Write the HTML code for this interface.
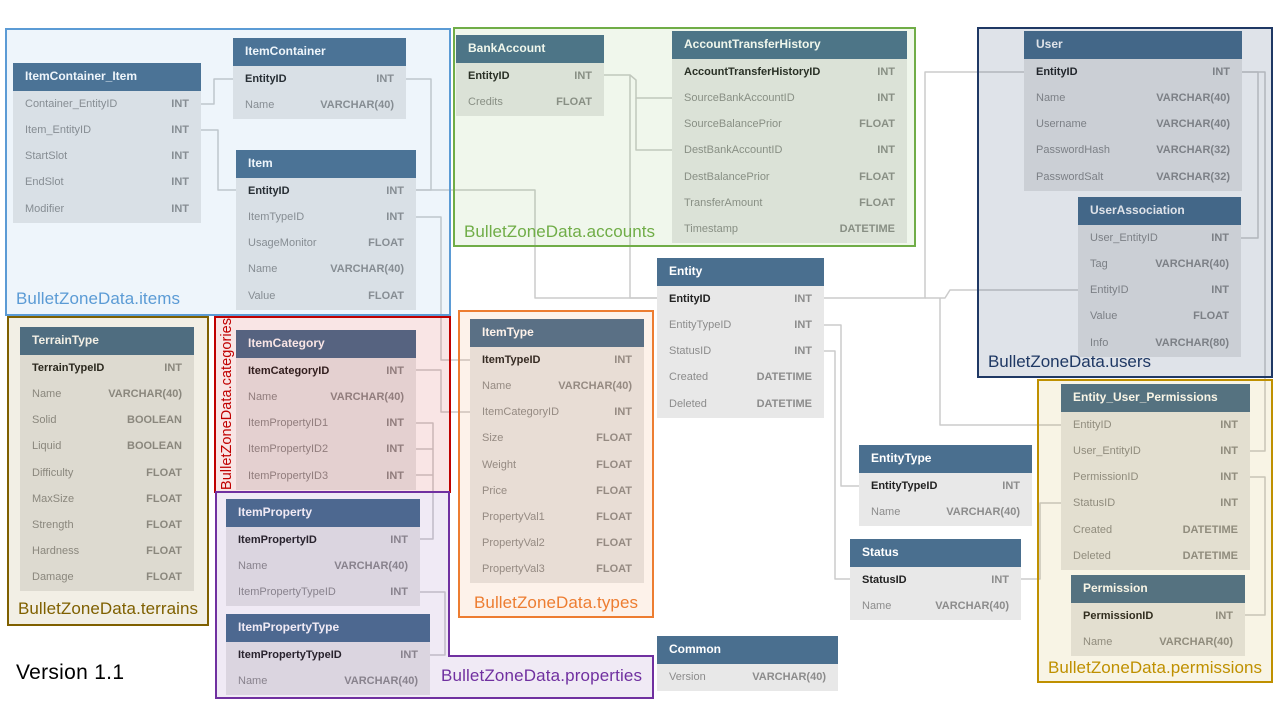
<!DOCTYPE html>
<html><head><meta charset="utf-8"><style>
body{margin:0;width:1280px;height:720px;background:#fff;position:relative;overflow:hidden;font-family:"Liberation Sans",sans-serif}
svg{position:absolute;left:0;top:0}
.t{position:absolute;background:#e8e8e8;font-size:11px;z-index:1;padding-bottom:1px}
.h{height:28px;background:#4a6f8f;color:#fff;font-weight:bold;font-size:12px;line-height:27px;padding-left:12px}
.r{height:26.15px;line-height:26px;padding:0 12px;display:flex;justify-content:space-between;color:#8c8c8c}
.k{color:#222;font-weight:bold}.k b{color:#8c8c8c}
.r b{font-weight:bold}
</style></head><body>
<svg width="1280" height="720" style="z-index:0" fill="none" stroke="#cbcbcb" stroke-width="1.5" stroke-linejoin="round">
<polyline points="201,104 214,104 214,79 233,79"/>
<polyline points="201,130 218,130 218,190 236,190"/>
<polyline points="406,79 431,79 431,190 416,190"/>
<polyline points="416,190 535,190 535,298 657,298"/>
<polyline points="416,217 441,217 441,360 470,360"/>
<polyline points="416,370 441,370 441,412 470,412"/>
<polyline points="416,423 433,423 433,539 420,539"/>
<polyline points="416,449 433,449"/><polyline points="416,475 433,475"/>
<polyline points="420,592 445,592 445,655 430,655"/>
<polyline points="604,75 630,75 630,298 657,298"/>
<polyline points="630,75 636,80 636,98 672,98"/>
<polyline points="636,98 636,150 672,150"/>
<polyline points="1024,72 925,72 925,298 824,298"/>
<polyline points="1078,290 950,290 945,298 925,298"/>
<polyline points="940,298 940,425 1061,425"/>
<polyline points="1242,72 1258,72 1258,238 1241,238"/>
<polyline points="1242,72 1265,72 1265,451 1250,451"/>
<polyline points="824,325 841,325 841,486 859,486"/>
<polyline points="824,351 835,351 835,579 850,579"/>
<polyline points="1021,579 1040,579 1040,503 1061,503"/>
<polyline points="1250,477 1265,477 1265,615 1245,615"/>
</svg>

<div class="t" style="left:13px;top:63px;width:188px"><div class="h">ItemContainer_Item</div>
<div class="r"><span>Container_EntityID</span><b>INT</b></div><div class="r"><span>Item_EntityID</span><b>INT</b></div><div class="r"><span>StartSlot</span><b>INT</b></div><div class="r"><span>EndSlot</span><b>INT</b></div><div class="r"><span>Modifier</span><b>INT</b></div></div>

<div class="t" style="left:233px;top:38px;width:173px"><div class="h">ItemContainer</div>
<div class="r k"><span>EntityID</span><b>INT</b></div><div class="r"><span>Name</span><b>VARCHAR(40)</b></div></div>

<div class="t" style="left:236px;top:150px;width:180px"><div class="h">Item</div>
<div class="r k"><span>EntityID</span><b>INT</b></div><div class="r"><span>ItemTypeID</span><b>INT</b></div><div class="r"><span>UsageMonitor</span><b>FLOAT</b></div><div class="r"><span>Name</span><b>VARCHAR(40)</b></div><div class="r"><span>Value</span><b>FLOAT</b></div></div>

<div class="t" style="left:456px;top:35px;width:148px"><div class="h">BankAccount</div>
<div class="r k"><span>EntityID</span><b>INT</b></div><div class="r"><span>Credits</span><b>FLOAT</b></div></div>

<div class="t" style="left:672px;top:31px;width:235px"><div class="h">AccountTransferHistory</div>
<div class="r k"><span>AccountTransferHistoryID</span><b>INT</b></div><div class="r"><span>SourceBankAccountID</span><b>INT</b></div><div class="r"><span>SourceBalancePrior</span><b>FLOAT</b></div><div class="r"><span>DestBankAccountID</span><b>INT</b></div><div class="r"><span>DestBalancePrior</span><b>FLOAT</b></div><div class="r"><span>TransferAmount</span><b>FLOAT</b></div><div class="r"><span>Timestamp</span><b>DATETIME</b></div></div>

<div class="t" style="left:1024px;top:31px;width:218px"><div class="h">User</div>
<div class="r k"><span>EntityID</span><b>INT</b></div><div class="r"><span>Name</span><b>VARCHAR(40)</b></div><div class="r"><span>Username</span><b>VARCHAR(40)</b></div><div class="r"><span>PasswordHash</span><b>VARCHAR(32)</b></div><div class="r"><span>PasswordSalt</span><b>VARCHAR(32)</b></div></div>

<div class="t" style="left:1078px;top:197px;width:163px"><div class="h">UserAssociation</div>
<div class="r"><span>User_EntityID</span><b>INT</b></div><div class="r"><span>Tag</span><b>VARCHAR(40)</b></div><div class="r"><span>EntityID</span><b>INT</b></div><div class="r"><span>Value</span><b>FLOAT</b></div><div class="r"><span>Info</span><b>VARCHAR(80)</b></div></div>

<div class="t" style="left:657px;top:258px;width:167px"><div class="h">Entity</div>
<div class="r k"><span>EntityID</span><b>INT</b></div><div class="r"><span>EntityTypeID</span><b>INT</b></div><div class="r"><span>StatusID</span><b>INT</b></div><div class="r"><span>Created</span><b>DATETIME</b></div><div class="r"><span>Deleted</span><b>DATETIME</b></div></div>

<div class="t" style="left:20px;top:327px;width:174px"><div class="h">TerrainType</div>
<div class="r k"><span>TerrainTypeID</span><b>INT</b></div><div class="r"><span>Name</span><b>VARCHAR(40)</b></div><div class="r"><span>Solid</span><b>BOOLEAN</b></div><div class="r"><span>Liquid</span><b>BOOLEAN</b></div><div class="r"><span>Difficulty</span><b>FLOAT</b></div><div class="r"><span>MaxSize</span><b>FLOAT</b></div><div class="r"><span>Strength</span><b>FLOAT</b></div><div class="r"><span>Hardness</span><b>FLOAT</b></div><div class="r"><span>Damage</span><b>FLOAT</b></div></div>

<div class="t" style="left:236px;top:330px;width:180px"><div class="h">ItemCategory</div>
<div class="r k"><span>ItemCategoryID</span><b>INT</b></div><div class="r"><span>Name</span><b>VARCHAR(40)</b></div><div class="r"><span>ItemPropertyID1</span><b>INT</b></div><div class="r"><span>ItemPropertyID2</span><b>INT</b></div><div class="r"><span>ItemPropertyID3</span><b>INT</b></div></div>

<div class="t" style="left:470px;top:319px;width:174px"><div class="h">ItemType</div>
<div class="r k"><span>ItemTypeID</span><b>INT</b></div><div class="r"><span>Name</span><b>VARCHAR(40)</b></div><div class="r"><span>ItemCategoryID</span><b>INT</b></div><div class="r"><span>Size</span><b>FLOAT</b></div><div class="r"><span>Weight</span><b>FLOAT</b></div><div class="r"><span>Price</span><b>FLOAT</b></div><div class="r"><span>PropertyVal1</span><b>FLOAT</b></div><div class="r"><span>PropertyVal2</span><b>FLOAT</b></div><div class="r"><span>PropertyVal3</span><b>FLOAT</b></div></div>

<div class="t" style="left:226px;top:499px;width:194px"><div class="h">ItemProperty</div>
<div class="r k"><span>ItemPropertyID</span><b>INT</b></div><div class="r"><span>Name</span><b>VARCHAR(40)</b></div><div class="r"><span>ItemPropertyTypeID</span><b>INT</b></div></div>

<div class="t" style="left:226px;top:614px;width:204px"><div class="h">ItemPropertyType</div>
<div class="r k"><span>ItemPropertyTypeID</span><b>INT</b></div><div class="r"><span>Name</span><b>VARCHAR(40)</b></div></div>

<div class="t" style="left:657px;top:636px;width:181px"><div class="h">Common</div>
<div class="r"><span>Version</span><b>VARCHAR(40)</b></div></div>

<div class="t" style="left:859px;top:445px;width:173px"><div class="h">EntityType</div>
<div class="r k"><span>EntityTypeID</span><b>INT</b></div><div class="r"><span>Name</span><b>VARCHAR(40)</b></div></div>

<div class="t" style="left:850px;top:539px;width:171px"><div class="h">Status</div>
<div class="r k"><span>StatusID</span><b>INT</b></div><div class="r"><span>Name</span><b>VARCHAR(40)</b></div></div>

<div class="t" style="left:1061px;top:384px;width:189px"><div class="h">Entity_User_Permissions</div>
<div class="r"><span>EntityID</span><b>INT</b></div><div class="r"><span>User_EntityID</span><b>INT</b></div><div class="r"><span>PermissionID</span><b>INT</b></div><div class="r"><span>StatusID</span><b>INT</b></div><div class="r"><span>Created</span><b>DATETIME</b></div><div class="r"><span>Deleted</span><b>DATETIME</b></div></div>

<div class="t" style="left:1071px;top:575px;width:174px"><div class="h">Permission</div>
<div class="r k"><span>PermissionID</span><b>INT</b></div><div class="r"><span>Name</span><b>VARCHAR(40)</b></div></div>

<svg width="1280" height="720" style="z-index:2;pointer-events:none" stroke-width="2" font-family="Liberation Sans, sans-serif" font-size="17">
<rect x="6" y="29" width="444" height="286" fill="rgba(91,155,213,0.1)" stroke="#5b9bd5"/>
<rect x="454" y="28" width="461" height="218" fill="rgba(112,173,71,0.1)" stroke="#70ad47"/>
<rect x="978" y="28" width="294" height="349" fill="rgba(31,56,100,0.14)" stroke="#1f3864"/>
<rect x="8" y="317" width="200" height="308" fill="rgba(127,96,0,0.1)" stroke="#7f6000"/>
<rect x="215" y="317" width="235" height="175" fill="rgba(192,0,0,0.1)" stroke="#c00000"/>
<polygon points="216,492 449,492 449,656 653,656 653,698 216,698" fill="rgba(112,48,160,0.1)" stroke="#7030a0"/>
<rect x="459" y="311" width="194" height="306" fill="rgba(237,125,49,0.1)" stroke="#ed7d31"/>
<rect x="1038" y="380" width="234" height="302" fill="rgba(191,144,0,0.1)" stroke="#bf9000"/>
<g stroke="none">
<text x="16" y="304" fill="#5b9bd5" textLength="164">BulletZoneData.items</text>
<text x="464" y="237" fill="#70ad47" textLength="191">BulletZoneData.accounts</text>
<text x="988" y="367" fill="#1f3864" textLength="163">BulletZoneData.users</text>
<text x="18" y="614" fill="#7f6000" textLength="180">BulletZoneData.terrains</text>
<text x="474" y="608" fill="#ed7d31" textLength="164">BulletZoneData.types</text>
<text x="441" y="681" fill="#7030a0" textLength="201">BulletZoneData.properties</text>
<text x="1048" y="673" fill="#bf9000" textLength="214">BulletZoneData.permissions</text>
<text transform="translate(231,490) rotate(-90)" font-size="14.5" fill="#c00000" textLength="172">BulletZoneData.categories</text>
<text x="16" y="679" font-size="21" fill="#000" textLength="108">Version 1.1</text>
</g>
</svg>
</body></html>
